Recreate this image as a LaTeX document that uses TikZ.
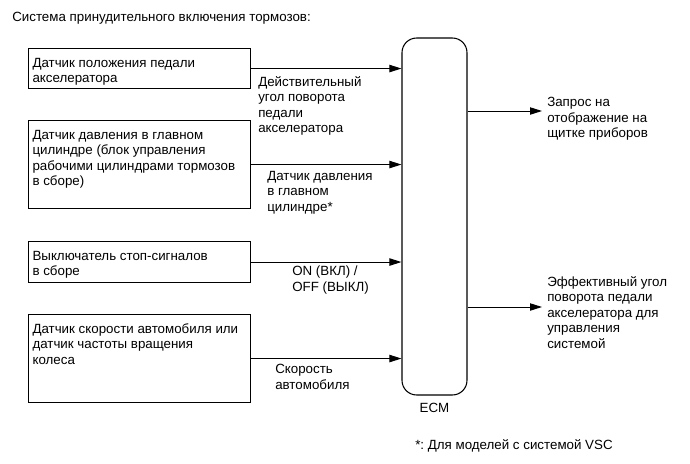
\documentclass[tikz,border=0pt]{standalone}
\usepackage{fontspec}
\setmainfont{Liberation Sans}
\usetikzlibrary{calc, positioning}
\usetikzlibrary{arrows.meta}
\frenchspacing

\tikzset{
  every node/.style={font=\fontsize{10}{11.6}\selectfont},
  sensor/.style={draw, line width=0.8pt, anchor=north west, inner xsep=3pt, inner ysep=6pt},
  ecmbox/.style={draw, line width=0.8pt, rounded corners=11pt, minimum width=48.75pt, minimum height=267.75pt, inner sep=0pt},
  signal/.style={line width=0.75pt, -{Triangle[length=9pt, width=5.5pt]}},
  lbl/.style={anchor=north west, inner sep=0pt, align=left},
}
\newcommand{\sensortext}[2]{\parbox[t][#1pt][t]{160.5pt}{\raggedright\strut#2}}

\begin{document}
\begin{tikzpicture}[x=0.75pt, y=-0.75pt]
\useasboundingbox (0,0) rectangle (690,464);

\node[lbl] (title) at (12,12) {Система принудительного включения тормозов:};

\node[sensor] (pedal) at (28,48) {\sensortext{18}{Датчик положения педали\\акселератора}};
\node[sensor] (master) at (28,120) {\sensortext{54}{Датчик давления в главном\\цилиндре (блок управления\\рабочими цилиндрами тормозов\\в сборе)}};
\node[sensor] (stop) at (28,241) {\sensortext{18.75}{Выключатель стоп-сигналов\\в сборе}};
\node[sensor] (speed) at (28,314) {\sensortext{54}{Датчик скорости автомобиля или\\датчик частоты вращения\\колеса}};

\node[ecmbox] (ecm) at (434.5,216.5) {};
\node[below=2pt of ecm] (ecmname) {ECM};

\coordinate (req) at (542,111);
\coordinate (eff) at (542,307);

\draw[signal] (pedal.east) -- (pedal.east -| ecm.west);
\draw[signal] (master.east) -- (master.east -| ecm.west);
\draw[signal] (stop.east) -- (stop.east -| ecm.west);
\draw[signal] (speed.east) -- (speed.east -| ecm.west);
\draw[signal] (req -| ecm.east) -- (req);
\draw[signal] (eff -| ecm.east) -- (eff);

\node[lbl] (angle) at (258,76) {Действительный\\угол поворота\\педали\\акселератора};
\node[lbl] (press) at (267,171) {Датчик давления\\в главном\\цилиндре*};
\node[lbl] (onoff) at (292,266) {ON (ВКЛ) /\\OFF (ВЫКЛ)};
\node[lbl] (vel) at (275,364) {Скорость\\автомобиля};

\node[lbl] (reqtext) at (547,97) {Запрос на\\отображение на\\щитке приборов};
\node[lbl] (efftext) at (547,276) {Эффективный угол\\поворота педали\\акселератора для\\управления\\системой};

\node[lbl] (note) at (415,439) {*: Для моделей с системой VSC};
\end{tikzpicture}
\end{document}
